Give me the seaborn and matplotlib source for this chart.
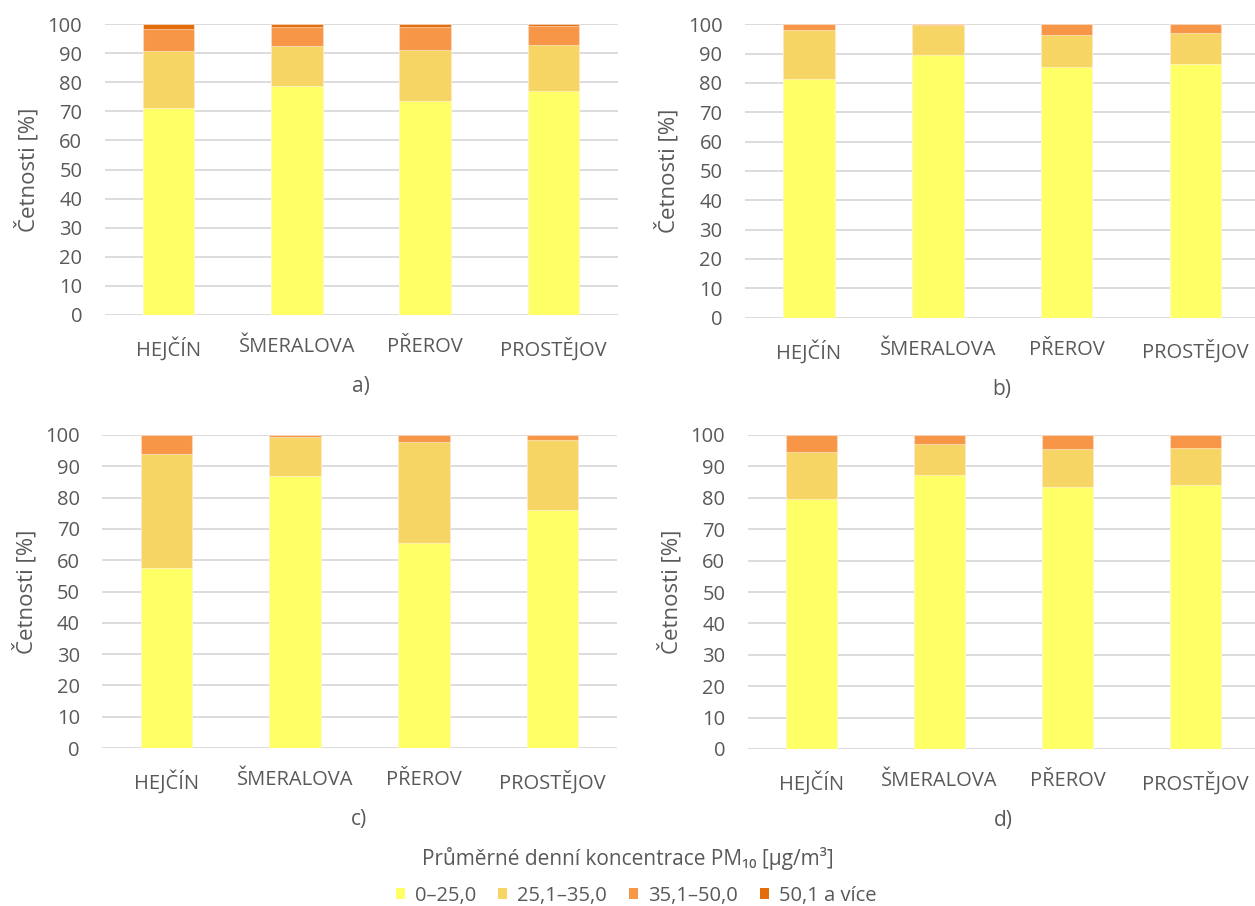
import numpy as np
import pandas as pd
import matplotlib
matplotlib.use("Agg")
import matplotlib.pyplot as plt
import seaborn as sns
from matplotlib.patches import Patch

# ---------------- data ----------------
stations = ["HEJČÍN", "ŠMERALOVA", "PŘEROV", "PROSTĚJOV"]
classes = ["0–25,0", "25,1–35,0", "35,1–50,0", "50,1 a více"]
colors = ["#FFFF66", "#F7D564", "#F79646", "#E46C0A"]

a_c1 = [71.1, 78.7, 73.6, 77.0]
a_c2 = [19.6, 13.6, 17.6, 15.9]
a_c3 = [7.7, 6.8, 7.9, 6.5]
a_c4 = [1.6, 0.9, 0.9, 0.6]

b_c1 = [81.5, 89.7, 85.3, 86.3]
b_c2 = [16.4, 9.9, 10.9, 10.9]
b_c3 = [2.1, 0.4, 3.8, 2.8]
b_c4 = [0.0, 0.0, 0.0, 0.0]

c_c1 = [57.5, 86.9, 65.6, 75.9]
c_c2 = [36.4, 12.6, 32.3, 22.5]
c_c3 = [6.1, 0.5, 2.1, 1.6]
c_c4 = [0.0, 0.0, 0.0, 0.0]

d_c1 = [79.7, 87.4, 83.5, 84.1]
d_c2 = [14.9, 9.8, 12.1, 11.7]
d_c3 = [5.4, 2.8, 4.4, 4.2]
d_c4 = [0.0, 0.0, 0.0, 0.0]

panel_labels = ["a)", "b)", "c)", "d)"]
ylabel = "Četnosti [%]"
legend_title = "Průměrné denní koncentrace PM₁₀ [µg/m³]"
yticks = [0, 10, 20, 30, 40, 50, 60, 70, 80, 90, 100]

panels = [
    [a_c1, a_c2, a_c3, a_c4],
    [b_c1, b_c2, b_c3, b_c4],
    [c_c1, c_c2, c_c3, c_c4],
    [d_c1, d_c2, d_c3, d_c4],
]

# ---------------- style ----------------
sns.set_theme(style="white")
FAM = ["Open Sans", "DejaVu Sans"]
plt.rcParams["font.family"] = FAM
TXT = "#595959"
GRID = "#D9D9D9"

W, H = 1255, 906
fig = plt.figure(figsize=(W / 100, H / 100), dpi=100)

def px_axes(left, right, top, bottom):
    return fig.add_axes([left / W, 1 - bottom / H, (right - left) / W, (bottom - top) / H])

boxes = [
    (104.5, 617.5, 24.0, 315.0),
    (744.6, 1259.9, 24.3, 317.6),
    (102.2, 616.8, 435.0, 748.0),
    (747.5, 1259.5, 435.0, 749.0),
]

for idx, (box, series) in enumerate(zip(boxes, panels)):
    ax = px_axes(*box)
    vals = np.array(series)  # shape (4 classes, 4 stations)
    cum = np.cumsum(vals, axis=0)
    for k in range(len(classes) - 1, -1, -1):
        df = pd.DataFrame({"station": stations, "value": cum[k]})
        sns.barplot(data=df, x="station", y="value", color=colors[k],
                    saturation=1, width=0.4, ax=ax, order=stations,
                    edgecolor=(1, 1, 1, 0.45), linewidth=0.8, zorder=3)
    ax.set_ylim(0, 100)
    ax.set_xlim(-0.5, 3.5)
    ax.set_yticks(yticks)
    ax.yaxis.grid(True, color=GRID, linewidth=1.3, zorder=0)
    ax.xaxis.grid(False)
    ax.set_axisbelow(True)
    for s in ax.spines.values():
        s.set_visible(False)
    ax.tick_params(axis="both", length=0, colors=TXT, labelsize=14.5)
    ax.tick_params(axis="y", pad=16)
    ax.tick_params(axis="x", pad=16)
    ax.set_ylabel(ylabel, fontsize=16, color=TXT, labelpad=6)
    ax.set_xlabel(panel_labels[idx], fontsize=15, color=TXT, labelpad=11)

fig.text(0.5, 1 - 858 / H, legend_title, ha="center", va="center",
         fontsize=15, color=TXT, family=FAM)

handles = [Patch(facecolor=c, edgecolor="none") for c in colors]
leg = fig.legend(handles, classes, loc="center", bbox_to_anchor=(0.507, 1 - 896 / H),
                 ncol=4, frameon=False, fontsize=14.5, handlelength=0.45,
                 handleheight=0.45, handletextpad=0.5, columnspacing=1.1,
                 labelcolor=TXT)

fig.savefig("out.png", dpi=100)
